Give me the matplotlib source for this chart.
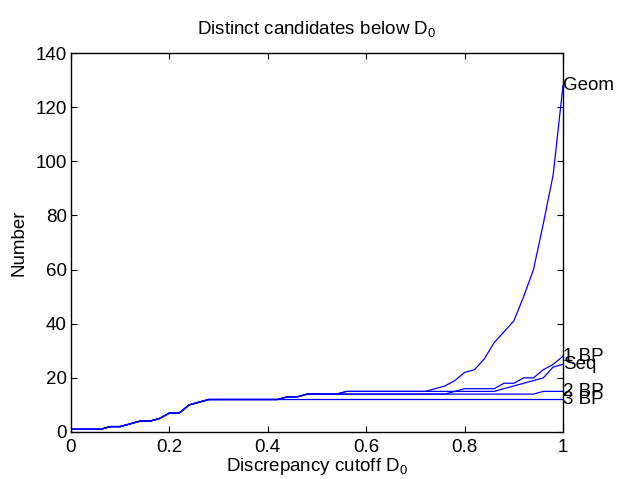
import numpy as np
import matplotlib
matplotlib.use("Agg")
import matplotlib.pyplot as plt

plt.rcParams['font.family'] = ['Liberation Sans', 'DejaVu Sans']
plt.rcParams['mathtext.fontset'] = 'custom'
plt.rcParams['mathtext.rm'] = 'Liberation Sans'
plt.rcParams['mathtext.it'] = 'Liberation Sans'

FS = 13.5

# cutoff grid 0, 0.02, ..., 1
cutoff = np.linspace(0, 1, 51)

# shared part of every curve up to D0 = 0.42
base = [1, 1, 1, 1, 2, 2, 3, 4, 4, 5, 7, 7, 10, 11, 12, 12, 12, 12, 12, 12, 12, 12]

geom = base + [13, 13, 14, 14, 14, 14, 15, 15, 15, 15, 15, 15, 15, 15, 15,
               16, 17, 19, 22, 23, 27, 33, 37, 41, 50, 60, 77, 95, 128]
bp1 = base + [13, 13, 14, 14, 14, 14, 14, 14, 14, 14, 14, 14, 14, 14, 14,
              14, 14, 15, 16, 16, 16, 16, 18, 18, 20, 20, 23, 25, 28]
seq = base + [13, 13, 14, 14, 14, 14, 15, 15, 15, 15, 15, 15, 15, 15, 15,
              15, 15, 15, 15, 15, 15, 15, 16, 17, 18, 19, 20, 24, 25]
bp2 = base + [13, 13, 14, 14, 14, 14, 14, 14, 14, 14, 14, 14, 14, 14, 14,
              14, 14, 14, 14, 14, 14, 14, 14, 14, 14, 14, 15, 15, 15]
bp3 = base + [12] * 29

series = [("Geom", geom), ("1 BP", bp1), ("Seq", seq), ("2 BP", bp2), ("3 BP", bp3)]

fig = plt.figure(figsize=(6.17, 4.79), dpi=100)
ax = fig.add_axes([71 / 617, 47 / 479, 492 / 617, 379 / 479])

for name, vals in series:
    ax.plot(cutoff, vals, color=(0, 0, 1), lw=0.9)
    ax.text(1.0, vals[-1], name, ha='left', va='center', fontsize=FS,
            clip_on=False)

ax.set_xlim(0, 1)
ax.set_ylim(0, 140)
ax.set_xticks(np.arange(0, 1.01, 0.2))
ax.set_xticklabels(["0", "0.2", "0.4", "0.6", "0.8", "1"])
ax.set_yticks(np.arange(0, 141, 20))
ax.tick_params(direction='in', top=True, right=True, length=4, width=0.8,
               labelsize=FS)
ax.tick_params(axis='x', pad=5)
ax.tick_params(axis='y', pad=3)
for s in ax.spines.values():
    s.set_linewidth(1.0)

ax.set_title(r"Distinct candidates below D$_0$", fontsize=FS, pad=14)
ax.set_xlabel(r"Discrepancy cutoff D$_0$", fontsize=FS, labelpad=0)
ax.set_ylabel("Number", fontsize=FS, labelpad=6)

fig.savefig("out.png", dpi=100)
